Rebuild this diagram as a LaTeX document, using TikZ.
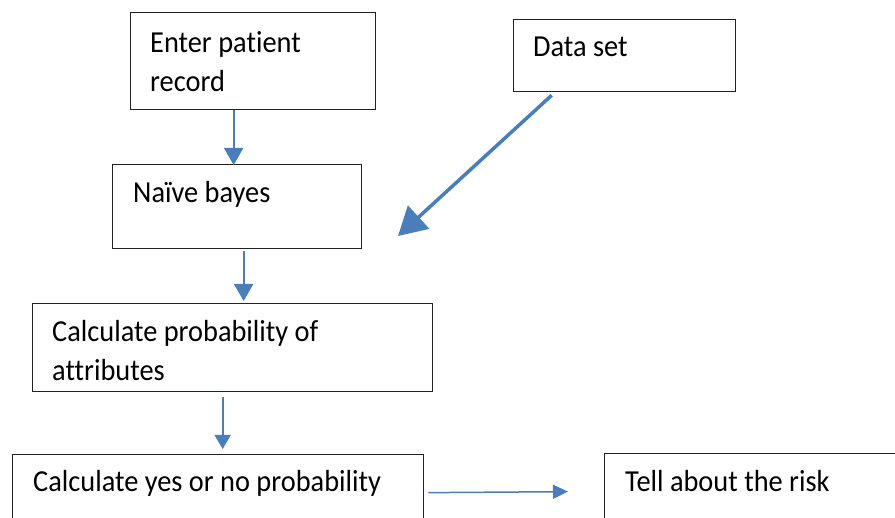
\documentclass[tikz,border=0pt]{standalone}
\usepackage{fontspec}
\setmainfont[Ligatures=NoCommon, FakeStretch=0.93]{Carlito}
\usetikzlibrary{arrows.meta}
\definecolor{arrblue}{HTML}{4A7EBB}
\definecolor{boxline}{HTML}{222222}
\tikzset{
  flowbox/.style={draw=boxline, line width=1.3pt, rectangle, anchor=north west, inner sep=0pt},
  txt/.style={anchor=base west, inner sep=0pt, font=\fontsize{30.5}{39}\selectfont},
  arr/.style={draw=arrblue, line width=2pt, -{Triangle[length=17pt,width=19pt]}},
  arrsmall/.style={draw=arrblue, line width=1.8pt, -{Triangle[length=14pt,width=16pt]}},
  arrthin/.style={draw=arrblue, line width=1.5pt, -{Triangle[length=15pt,width=14pt]}},
  arrbig/.style={draw=arrblue, line width=3.5pt, -{Triangle[length=28pt,width=31pt]}},
}
\begin{document}
\begin{tikzpicture}[x=1pt, y=-1pt]
\useasboundingbox (0,0) rectangle (895,518);
\clip (0,0) rectangle (895,518);
% boxes
\node[flowbox, minimum width=245pt, minimum height=97pt] (enter) at (130,12) {};
\node[flowbox, minimum width=222pt, minimum height=72pt] (data) at (513,19) {};
\node[flowbox, minimum width=249pt, minimum height=84pt] (naive) at (112,164) {};
\node[flowbox, minimum width=400pt, minimum height=88pt] (calcp) at (32,303) {};
\node[flowbox, minimum width=411pt, minimum height=100pt] (calcyn) at (12,454) {};
\node[flowbox, minimum width=320pt, minimum height=100pt] (tell) at (604,453) {};
% texts
\node[txt] (t1) at (150,53) {Enter patient};
\node[txt] (t1b) at (150,92) {record};
\node[txt] (t2) at (533,57) {Data set};
\node[txt] (t3) at (133,203) {Na\"{\i}ve bayes};
\node[txt] (t4) at (52,342) {Calculate probability of};
\node[txt] (t4b) at (52,381) {attributes};
\node[txt] (t5) at (33,492) {Calculate yes or no probability};
\node[txt] (t6) at (625,492) {Tell about the risk};
% connectors
\draw[arr] ([xshift=-19.5pt]enter.south) -- ([xshift=-3.5pt,yshift=-1pt]naive.north);
\draw[arr] ([xshift=6.5pt,yshift=-2pt]naive.south) -- ([xshift=11pt,yshift=2pt]calcp.north);
\draw[arrsmall] ([xshift=-10pt,yshift=-5pt]calcp.south) -- ([xshift=4.5pt,yshift=5pt]calcyn.north);
\coordinate (dstip) at (398,236);
\draw[arrbig] ([xshift=-73pt,yshift=-3pt]data.south) -- (dstip);
\draw[arrthin] ([xshift=4pt,yshift=12pt]calcyn.east) -- ([xshift=-36pt,yshift=12pt]tell.west);
\end{tikzpicture}
\end{document}
